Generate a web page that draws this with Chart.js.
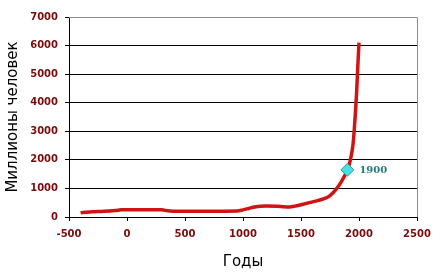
<!DOCTYPE html>
<html><head><meta charset="utf-8">
<script src="https://cdn.jsdelivr.net/npm/chart.js@4"></script>
<style>html,body{margin:0;padding:0;background:#fff}#wrap{width:440px;height:275px}</style>
</head><body><div id="wrap"><canvas id="c" width="440" height="275"></canvas></div>
<script>
const years = [-400,-380,-300,-200,-100,-50,0,200,300,350,400,600,800,950,1000,1050,1100,1150,1200,1300,1350,1400,1450,1500,1600,1650,1700,1750,1800,1850,1900,1920,1940,1950,1960,1970,1980,1990,2000];
const population = [150,160,180,200,230,250,255,255,250,215,205,205,205,210,250,300,350,380,385,380,360,350,380,430,530,580,640,750,960,1250,1650,1900,2300,2600,3100,3700,4400,5300,6100];
const markYear = [1900];
const markValue = [1650];
const markLabel = ['1900'];
const xTicks = [-500,0,500,1000,1500,2000,2500];
const yTicks = [0,1000,2000,3000,4000,5000,6000,7000];

const labelPlugin = {
  id:'markLabel',
  afterDatasetsDraw(chart){
    const ctx = chart.ctx, xs = chart.scales.x, ys = chart.scales.y;
    ctx.save();
    ctx.font = 'bold 10px "DejaVu Serif"';
    ctx.fillStyle = '#1f7a7a';
    ctx.textBaseline = 'middle';
    markYear.forEach((yr,i)=>{
      ctx.fillText(markLabel[i], xs.getPixelForValue(yr)+12, ys.getPixelForValue(markValue[i])+1);
    });
    ctx.restore();
  }
};
const borderPlugin = {
  id:'frame',
  beforeDatasetsDraw(chart){
    const {ctx, chartArea:a} = chart;
    ctx.save();
    ctx.strokeStyle = '#8c8c8c'; ctx.lineWidth = 1;
    ctx.beginPath();
    ctx.moveTo(a.left, a.top+0.5); ctx.lineTo(a.right+0.5, a.top+0.5); ctx.lineTo(a.right+0.5, a.bottom);
    ctx.stroke();
    ctx.restore();
  }
};

const tickFont = {family:'DejaVu Sans', size:10, weight:'bold'};
const plain = (v)=> String(v);
new Chart(document.getElementById('c'), {
  type:'scatter',
  data:{datasets:[
    {data: years.map((x,i)=>({x, y:population[i]})), showLine:true, borderColor:'#d01414', borderWidth:3.5, pointRadius:0, tension:0.3, cubicInterpolationMode:'monotone', order:2},
    {data: markYear.map((x,i)=>({x, y:markValue[i]})), pointStyle:'rectRot', pointRadius:6.5, backgroundColor:'#3de3e3', borderColor:'#5a8c8c', borderWidth:1, order:1}
  ]},
  options:{
    responsive:false, animation:false, devicePixelRatio:1,
    layout:{padding:{left:0, right:23, top:17, bottom:0}},
    plugins:{legend:{display:false}, tooltip:{enabled:false}},
    scales:{
      x:{type:'linear', min:-500, max:2500,
        afterBuildTicks(s){ s.ticks = xTicks.map(v=>({value:v})); },
        afterFit(s){ s.height = 58; },
        ticks:{font:tickFont, color:'#7a0c0c', padding:7, callback:plain},
        grid:{color:'rgba(0,0,0,0)', tickColor:'#000', tickLength:4, drawOnChartArea:false},
        border:{color:'#000'},
        title:{display:true, text:'Годы', font:{family:'DejaVu Sans', size:15}, color:'#000', padding:{top:3}}
      },
      y:{type:'linear', min:0, max:7000,
        afterBuildTicks(s){ s.ticks = yTicks.map(v=>({value:v})); },
        afterFit(s){ s.width = 69; },
        ticks:{font:tickFont, color:'#7a0c0c', padding:7, callback:plain},
        grid:{color:(c)=> c.tick && c.tick.value===7000 ? 'rgba(0,0,0,0)' : '#000', tickColor:'#000', tickLength:4},
        border:{color:'#000'},
        title:{display:true, text:'Миллионы человек', font:{family:'DejaVu Sans', size:15}, color:'#000', padding:{top:4, bottom:4}}
      }
    }
  },
  plugins:[borderPlugin, labelPlugin]
});
</script></body></html>
